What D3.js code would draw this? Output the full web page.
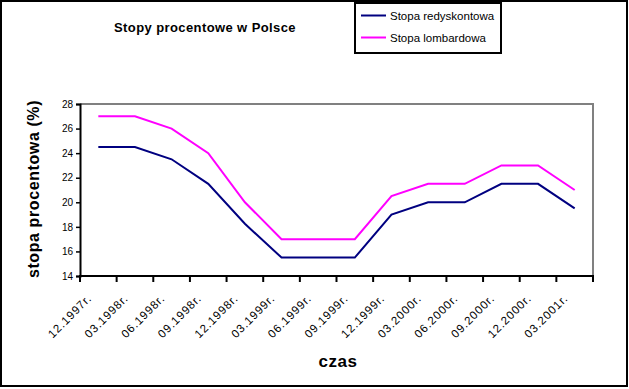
<!DOCTYPE html>
<html>
<head>
<meta charset="utf-8">
<script src="https://cdn.jsdelivr.net/npm/d3@7"></script>
<style>
  body { margin: 0; background: #fff; }
  svg { display: block; font-family: "Liberation Sans", Arial, sans-serif; }
</style>
</head>
<body>
<svg id="chart" width="629" height="389"></svg>
<script>
var categories = ["12.1997r.", "03.1998r.", "06.1998r.", "09.1998r.", "12.1998r.", "03.1999r.", "06.1999r.",
                  "09.1999r.", "12.1999r.", "03.2000r.", "06.2000r.", "09.2000r.", "12.2000r.", "03.2001r."];
var redyskontowa = [24.5, 24.5, 23.5, 21.5, 18.25, 15.5, 15.5, 15.5, 19, 20, 20, 21.5, 21.5, 19.5];
var lombardowa   = [27, 27, 26, 24, 20, 17, 17, 17, 20.5, 21.5, 21.5, 23, 23, 21];
var yTicks = [14, 16, 18, 20, 22, 24, 26, 28];
var seriesNames = ["Stopa redyskontowa", "Stopa lombardowa"];
var seriesColors = ["#000080", "#ff00ff"];

var svg = d3.select("#chart");

// plot area (don't call it "top", window.top is read-only)
var pL = 80, pR = 593, pT = 104, pB = 276;

var x = d3.scaleBand().domain(categories).range([pL, pR]).padding(0);
var y = d3.scaleLinear().domain([14, 28]).range([pB, pT]);

// outer frame
svg.append("rect")
  .attr("x", 1).attr("y", 1).attr("width", 626).attr("height", 385)
  .attr("fill", "none").attr("stroke", "#000").attr("stroke-width", 2);

// gray top and right of plot area
svg.append("path")
  .attr("d", "M" + pL + "," + pT + "H" + pR + "V" + pB)
  .attr("fill", "none").attr("stroke", "#808080").attr("stroke-width", 2);

// y axis
var yAxis = svg.append("g")
  .attr("transform", "translate(" + pL + ",0)")
  .call(d3.axisLeft(y).tickValues(yTicks).tickSize(4).tickPadding(3).tickFormat(d3.format("d")));
yAxis.select(".domain").attr("stroke", "#000").attr("stroke-width", 2);
yAxis.selectAll(".tick line").attr("stroke", "#000").attr("stroke-width", 1.5);
yAxis.selectAll(".tick text").attr("font-size", 10).attr("fill", "#000")
  .attr("font-family", "Liberation Sans, Arial, sans-serif");

// x axis line + ticks between categories
var xg = svg.append("g");
xg.append("line")
  .attr("x1", pL - 1).attr("x2", pR + 1).attr("y1", pB).attr("y2", pB)
  .attr("stroke", "#000").attr("stroke-width", 2);
var bounds = categories.map(function(c) { return x(c); }).concat([pR]);
xg.selectAll("line.tk").data(bounds).enter().append("line")
  .attr("class", "tk")
  .attr("x1", function(d) { return d; }).attr("x2", function(d) { return d; })
  .attr("y1", pB).attr("y2", pB + 6)
  .attr("stroke", "#000").attr("stroke-width", 2);

xg.selectAll("text.lbl").data(categories).enter().append("text")
  .attr("class", "lbl")
  .attr("text-anchor", "end")
  .attr("font-size", 11.5)
  .attr("letter-spacing", 0.9)
  .attr("transform", function(d) {
    return "translate(" + (x(d) + x.bandwidth() / 2 - 6) + "," + (pB + 23) + ") rotate(-45)";
  })
  .text(function(d) { return d; });

// lines
var line = d3.line()
  .x(function(d, i) { return x(categories[i]) + x.bandwidth() / 2; })
  .y(function(d) { return y(d); });

[redyskontowa, lombardowa].forEach(function(s, i) {
  svg.append("path")
    .datum(s)
    .attr("d", line)
    .attr("fill", "none")
    .attr("stroke", seriesColors[i])
    .attr("stroke-width", 2);
});

// titles
svg.append("text")
  .attr("x", 205).attr("y", 32)
  .attr("text-anchor", "middle")
  .attr("font-size", 13).attr("font-weight", "bold").attr("letter-spacing", 0.4)
  .text("Stopy procentowe w Polsce");

svg.append("text")
  .attr("x", 338).attr("y", 367)
  .attr("text-anchor", "middle")
  .attr("font-size", 17).attr("font-weight", "bold").attr("letter-spacing", 0.5)
  .text("czas");

svg.append("text")
  .attr("transform", "translate(39,189) rotate(-90)")
  .attr("text-anchor", "middle")
  .attr("font-size", 16).attr("font-weight", "bold").attr("letter-spacing", 0.6)
  .text("stopa procentowa (%)");

// legend
var lg = svg.append("g");
lg.append("rect")
  .attr("x", 355).attr("y", 3).attr("width", 146).attr("height", 50)
  .attr("fill", "#fff").attr("stroke", "#000").attr("stroke-width", 2);
seriesNames.forEach(function(n, i) {
  var ly = 15.5 + i * 22;
  lg.append("line")
    .attr("x1", 361).attr("x2", 386).attr("y1", ly).attr("y2", ly)
    .attr("stroke", seriesColors[i]).attr("stroke-width", 2);
  lg.append("text")
    .attr("x", 390).attr("y", ly + 4)
    .attr("font-size", 11.5)
    .text(n);
});
</script>
</body>
</html>
